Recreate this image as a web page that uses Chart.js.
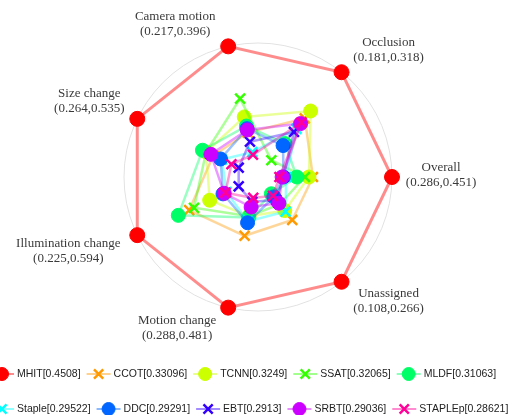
<!DOCTYPE html>
<html>
<head>
<meta charset="utf-8">
<script src="https://cdn.jsdelivr.net/npm/chart.js@4.4.1/dist/chart.umd.min.js"></script>
<style>
  body { margin: 0; background: #fff; }
  #wrap { width: 511px; height: 415px; }
</style>
</head>
<body>
<div id="wrap"><canvas id="chart-radar" width="511" height="415"></canvas></div>
<script>
// axes, clockwise from the right
const axisNames = ['Overall', 'Unassigned', 'Motion change', 'Illumination change', 'Size change', 'Camera motion', 'Occlusion'];
const axisRanges = ['(0.286,0.451)', '(0.108,0.266)', '(0.288,0.481)', '(0.225,0.594)', '(0.264,0.535)', '(0.217,0.396)', '(0.181,0.318)'];

const trackers = ['MHIT', 'CCOT', 'TCNN', 'SSAT', 'MLDF', 'Staple', 'DDC', 'EBT', 'SRBT', 'STAPLEp'];
const overallScores = ['0.4508', '0.33096', '0.3249', '0.32065', '0.31063', '0.29522', '0.29291', '0.2913', '0.29036', '0.28621'];
const markers = ['circle', 'crossRot', 'circle', 'crossRot', 'circle', 'crossRot', 'circle', 'crossRot', 'circle', 'crossRot'];

// relative position on each axis (0 = centre, 1 = outer circle)
const mhit    = [1.00, 1.00, 1.00, 1.00, 1.00, 1.00, 1.00];
const ccot    = [0.41, 0.41, 0.45, 0.57, 0.37, 0.34, 0.56];
const tcnn    = [0.38, 0.32, 0.30, 0.40, 0.43, 0.46, 0.63];
const ssat    = [0.35, 0.26, 0.30, 0.53, 0.43, 0.60, 0.16];
const mldf    = [0.29, 0.16, 0.31, 0.66, 0.46, 0.39, 0.32];
const staple  = [0.21, 0.33, 0.34, 0.26, 0.30, 0.19, 0.46];
const ddc     = [0.19, 0.19, 0.35, 0.29, 0.31, 0.37, 0.30];
const ebt     = [0.19, 0.22, 0.19, 0.16, 0.16, 0.27, 0.43];
const srbt    = [0.18, 0.25, 0.23, 0.28, 0.39, 0.36, 0.51];
const staplep = [0.16, 0.18, 0.16, 0.27, 0.22, 0.17, 0.52];
const series = [mhit, ccot, tcnn, ssat, mldf, staple, ddc, ebt, srbt, staplep];

// label offsets from each axis end
const labelOffsets = [[49, -2], [47, 19], [-51, 20], [-69, 16], [-48, -18], [-53, -22], [47, -22]];

const colorOf = (i, a) => `hsla(${i * 36}, 100%, 50%, ${a})`;

const datasets = trackers.map((name, i) => ({
    label: `${name}[${overallScores[i]}]`,
    data: series[i],
    borderColor: colorOf(i, i == 0 ? 0.45 : 0.4),
    borderWidth: i == 0 ? 3 : 2.5,
    pointStyle: markers[i],
    pointRadius: i == 0 ? 7.5 : 7,
    pointHoverRadius: 7,
    pointBackgroundColor: colorOf(i, 1),
    pointBorderColor: colorOf(i, 1),
    pointBorderWidth: markers[i] == 'circle' ? 1 : 2.5,
    fill: false,
    clip: false,
    order: trackers.length - i
}));

const axisLabels = {
    id: 'axisLabels',
    afterDraw(chart) {
        const scale = chart.scales.r;
        const ctx = chart.ctx;
        ctx.save();
        ctx.font = '13px "Liberation Serif"';
        ctx.fillStyle = '#3a3a3a';
        ctx.textAlign = 'center';
        ctx.textBaseline = 'middle';
        axisNames.forEach((name, i) => {
            const p = scale.getPointPosition(i, scale.drawingArea);
            const x = p.x + labelOffsets[i][0];
            const y = p.y + labelOffsets[i][1];
            ctx.fillText(name, x, y - 7.5);
            ctx.fillText(axisRanges[i], x, y + 7.5);
        });
        ctx.restore();
    }
};

const lineLegend = {
    id: 'lineLegend',
    afterDraw(chart) {
        const ctx = chart.ctx;
        const rows = [374, 409];
        ctx.save();
        ctx.font = '10.5px "Liberation Sans"';
        ctx.textBaseline = 'middle';
        ctx.textAlign = 'left';
        chart.data.datasets.forEach((ds, i) => {
            const row = Math.floor(i / 5);
            if (i % 5 == 0) this.x = 2;
            const x = this.x, y = rows[row];
            ctx.strokeStyle = colorOf(i, 0.45);
            ctx.lineWidth = 2;
            ctx.beginPath();
            ctx.moveTo(x - 12, y);
            ctx.lineTo(x + 12, y);
            ctx.stroke();
            ctx.fillStyle = colorOf(i, 1);
            ctx.strokeStyle = colorOf(i, 1);
            ctx.lineWidth = ds.pointBorderWidth;
            Chart.helpers.drawPoint(ctx, {pointStyle: ds.pointStyle, radius: 6.5, rotation: 0, borderWidth: ds.pointBorderWidth}, x, y);
            ctx.fillStyle = '#222';
            ctx.fillText(ds.label, x + 15, y);
            this.x = x + 15 + ctx.measureText(ds.label).width + 18;
        });
        ctx.restore();
    }
};

new Chart(document.getElementById('chart-radar'), {
    type: 'radar',
    data: { labels: axisNames, datasets },
    options: {
        responsive: false,
        animation: false,
        layout: { padding: { left: 124, right: 119, top: 43, bottom: 104 } },
        plugins: { legend: { display: false }, tooltip: { enabled: false } },
        scales: {
            r: {
                min: 0,
                max: 1,
                startAngle: 90,
                ticks: { display: false, stepSize: 1 },
                grid: { color: '#e2e2e2', lineWidth: 1, circular: true },
                angleLines: { display: false },
                pointLabels: { display: false }
            }
        }
    },
    plugins: [axisLabels, lineLegend]
});
</script>
</body>
</html>
